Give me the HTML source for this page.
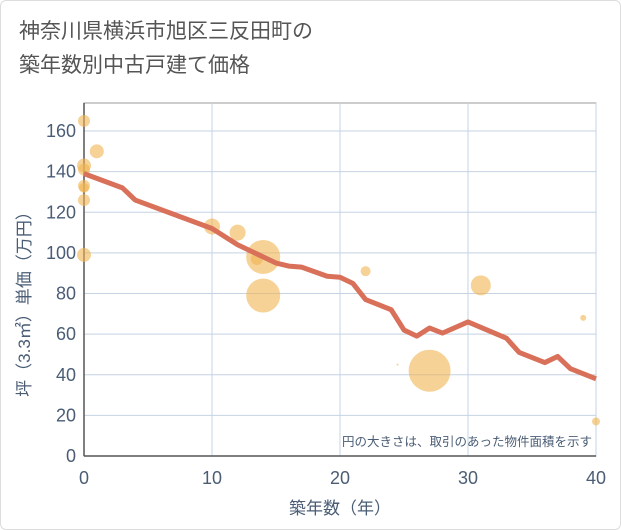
<!DOCTYPE html>
<html><head><meta charset="utf-8"><style>
body{margin:0;background:#fff;font-family:"Liberation Sans","Noto Sans CJK JP",sans-serif}
#wrap{position:relative;width:619px;height:528px;border:1px solid #ddd;border-radius:6px;background:#fff}
#title{position:absolute;left:18px;top:14px;font-size:21px;line-height:34px;color:#555}
</style></head><body>
<div id="wrap">
<div id="title">神奈川県横浜市旭区三反田町の<br>築年数別中古戸建て価格</div>
<svg id="chart" width="621" height="530" style="position:absolute;left:-1px;top:-1px"></svg>
</div>
<script>
const xTicks=[0,10,20,30,40];
const yTicks=[0,20,40,60,80,100,120,140,160];
const lineX=[0,3,4,10,12,15,16,17,19,20,21,22,24,25,26,27,28,30,33,34,36,37,38,40];
const lineY=[139,132,126,112,104,95,93.5,93,88.5,88,85,77,72,62,59,63,60.5,66,58,51,46,49,43,38];
const bubX=[0,1,0,0,0,0,0,0,10,12,14,13.5,14,22,27,31,39,40,24.5];
const bubY=[165,150,143,141,133,132,126,99,113,110,98,97,79,91,42,84,68,17,45];
const bubR=[6,7,7,6,6,5,6,7,8,8,17,6,17,5,21,10,3,4,1];
const L=84,R=596,T=103,B=456;
const TC='#4a5d75';
const sx=v=>L+(v-0)/40*(R-L);
const sy=v=>B-v/160*(B-131);
const svg=document.getElementById('chart');const NS='http://www.w3.org/2000/svg';
function mk(t,a,p){const e=document.createElementNS(NS,t);for(const k in a)e.setAttribute(k,a[k]);(p||svg).appendChild(e);return e;}
mk('rect',{x:L,y:T,width:R-L,height:B-T,fill:'#fff',stroke:'#999','stroke-width':1});
xTicks.forEach(v=>{
 const g=mk('line',{x1:sx(v),x2:sx(v),y1:T,y2:B,stroke:'#c5d3e3','stroke-width':1});
 
 
 const t=mk('text',{x:sx(v),y:484,'text-anchor':'middle','font-size':18,fill:TC});t.textContent=v;
 
 
});
yTicks.forEach(v=>{
 const g=mk('line',{x1:L,x2:R,y1:sy(v),y2:sy(v),stroke:'#c5d3e3','stroke-width':1});
 
 
 const t=mk('text',{x:76,y:sy(v)+6,'text-anchor':'end','font-size':18,fill:TC});t.textContent=v;
 
 
});
mk('line',{x1:L,x2:L,y1:T,y2:B,stroke:'#555','stroke-width':1.5});
mk('line',{x1:L,x2:R,y1:B,y2:B,stroke:'#555','stroke-width':1.5});
bubX.forEach((v,i)=>{
 const c=mk('circle',{cx:sx(v),cy:sy(bubY[i]),r:bubR[i],fill:'rgba(240,180,80,0.6)'});
 
 
});
const p=mk('polyline',{points:lineX.map((v,i)=>sx(v)+','+sy(lineY[i])).join(' '),fill:'none',stroke:'#d9705a','stroke-width':5,'stroke-linejoin':'round'});


const n=mk('text',{x:592,y:446,'text-anchor':'end','font-size':12.5,fill:TC});n.textContent='円の大きさは、取引のあった物件面積を示す';


const xt=mk('text',{x:340,y:514,'text-anchor':'middle','font-size':17,fill:TC});xt.textContent='築年数（年）';


const yt=mk('text',{x:0,y:0,'text-anchor':'middle','font-size':17,fill:TC,transform:'translate(30,300) rotate(-90)'});yt.textContent='坪（3.3㎡）単価（万円）';


</script>
</body></html>
